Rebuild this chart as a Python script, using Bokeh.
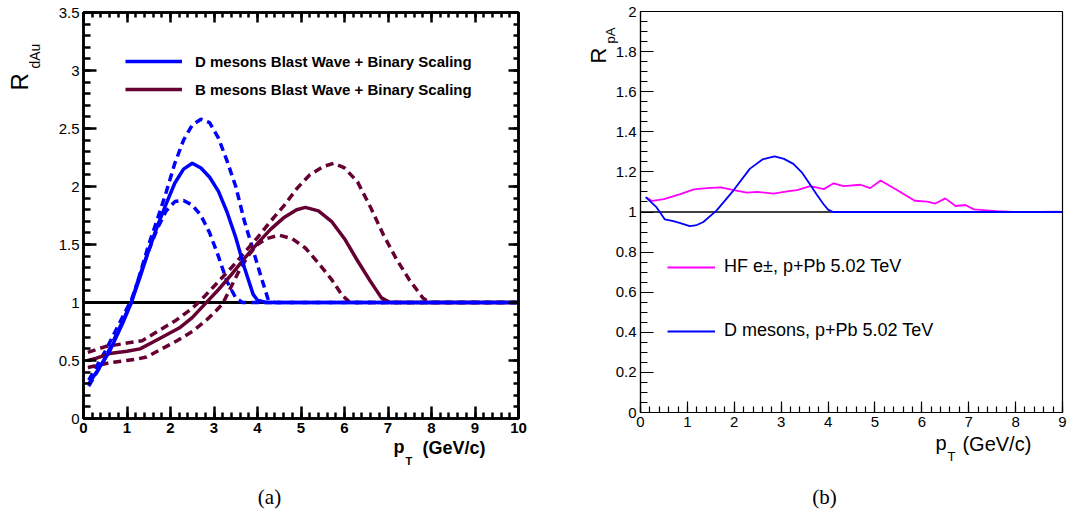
import numpy as np
from bokeh.plotting import figure
from bokeh.models import (FixedTicker, LinearAxis, Range1d, Span, Label,
                          Legend, LegendItem, CustomJSTickFormatter)
from bokeh.layouts import row, column
from bokeh.embed import file_html
from bokeh.resources import INLINE

SANS = "Liberation Sans"
SERIF = "Liberation Serif"

# ---------------- panel (a): R_dAu ----------------
d_pt = [0.12, 0.3, 0.6, 0.9, 1.1, 1.3, 1.5, 1.7, 1.9, 2.1, 2.3, 2.5, 2.7, 2.9,
        3.1, 3.3, 3.5, 3.7, 3.9, 4.0, 4.2, 10.0]
d_mid = [0.30, 0.40, 0.58, 0.82, 1.00, 1.22, 1.45, 1.66, 1.85, 2.03, 2.15, 2.20,
         2.16, 2.08, 1.96, 1.78, 1.56, 1.30, 1.07, 1.02, 1.00, 1.00]
d_hi_pt = [0.12, 0.5, 1.0, 1.1, 1.3, 1.5, 1.7, 1.9, 2.1, 2.3, 2.5, 2.7, 2.9, 3.1,
           3.3, 3.5, 3.7, 3.9, 4.1, 4.25, 4.4, 10.0]
d_hi = [0.28, 0.52, 0.92, 1.00, 1.25, 1.50, 1.72, 1.95, 2.20, 2.40, 2.53, 2.58,
        2.55, 2.42, 2.22, 2.00, 1.70, 1.45, 1.20, 1.02, 1.00, 1.00]
d_lo_pt = [0.12, 0.5, 1.0, 1.1, 1.3, 1.5, 1.7, 1.9, 2.1, 2.3, 2.5, 2.7, 2.9, 3.1,
           3.3, 3.5, 3.65, 10.0]
d_lo = [0.33, 0.58, 0.95, 1.02, 1.24, 1.45, 1.64, 1.79, 1.87, 1.88, 1.84, 1.75,
        1.60, 1.40, 1.18, 1.04, 1.00, 1.00]

b_pt = [0.1, 0.3, 0.6, 1.0, 1.3, 1.6, 1.9, 2.2, 2.5, 2.8, 3.1, 3.4, 3.7, 4.0, 4.3,
        4.6, 4.9, 5.1, 5.4, 5.7, 6.0, 6.3, 6.6, 6.85, 7.05, 10.0]
b_mid = [0.50, 0.52, 0.56, 0.58, 0.60, 0.66, 0.72, 0.78, 0.87, 0.99, 1.11, 1.24,
         1.38, 1.51, 1.63, 1.73, 1.80, 1.82, 1.79, 1.70, 1.55, 1.36, 1.18, 1.04,
         1.00, 1.00]
b_hi_pt = [0.1, 0.5, 1.0, 1.35, 1.7, 2.1, 2.5, 2.8, 3.1, 3.4, 3.7, 4.0, 4.3, 4.6,
           4.9, 5.2, 5.5, 5.75, 6.0, 6.3, 6.6, 6.9, 7.2, 7.5, 7.8, 7.95, 10.0]
b_hi = [0.57, 0.62, 0.65, 0.67, 0.75, 0.84, 0.95, 1.06, 1.18, 1.30, 1.43, 1.56,
        1.70, 1.83, 1.98, 2.10, 2.17, 2.20, 2.16, 2.04, 1.82, 1.58, 1.37, 1.19,
        1.04, 1.00, 1.00]
b_lo_pt = [0.1, 0.6, 1.2, 1.45, 1.8, 2.15, 2.5, 2.8, 3.0, 3.2, 3.4, 3.6, 3.8, 4.0,
           4.2, 4.5, 4.8, 5.1, 5.4, 5.7, 5.95, 6.1, 6.2, 10.0]
b_lo = [0.44, 0.48, 0.51, 0.53, 0.60, 0.67, 0.75, 0.84, 0.91, 0.99, 1.14, 1.29,
        1.41, 1.50, 1.55, 1.58, 1.55, 1.47, 1.34, 1.20, 1.06, 1.01, 1.00, 1.00]

a_legend = ["D mesons Blast Wave + Binary Scaling",
            "B mesons Blast Wave + Binary Scaling"]
a_xticks = [0, 1, 2, 3, 4, 5, 6, 7, 8, 9, 10]
a_xlabels = ["0", "1", "2", "3", "4", "5", "6", "7", "8", "9", "10"]
a_yticks = [0, 0.5, 1, 1.5, 2, 2.5, 3, 3.5]
a_ylabels = ["0", "0.5", "1", "1.5", "2", "2.5", "3", "3.5"]

# ---------------- panel (b): R_pA ----------------
hf_pt = [0.13, 0.25, 0.5, 0.85, 1.14, 1.42, 1.71, 1.99, 2.27, 2.49, 2.84, 3.13,
         3.34, 3.62, 3.91, 4.12, 4.33, 4.69, 4.9, 5.12, 5.47, 5.85, 6.11, 6.29,
         6.5, 6.72, 6.93, 7.11, 7.6, 7.96, 8.5, 8.95]
hf_r = [1.072, 1.055, 1.064, 1.089, 1.113, 1.119, 1.123, 1.109, 1.097, 1.100,
        1.092, 1.103, 1.109, 1.129, 1.114, 1.143, 1.129, 1.136, 1.119, 1.157,
        1.110, 1.056, 1.052, 1.042, 1.068, 1.030, 1.035, 1.013, 1.004, 1.001,
        1.000, 1.002]
dm_pt = [0.11, 0.34, 0.52, 0.70, 0.85, 1.05, 1.2, 1.34, 1.62, 1.98, 2.33, 2.6,
         2.86, 3.06, 3.26, 3.45, 3.61, 3.75, 3.90, 4.0, 4.11, 9.0]
dm_r = [1.074, 1.024, 0.963, 0.955, 0.945, 0.930, 0.935, 0.950, 1.007, 1.107,
        1.215, 1.262, 1.277, 1.265, 1.240, 1.195, 1.140, 1.090, 1.040, 1.012,
        1.000, 1.000]
b_legend = ["HF e\u00b1, p+Pb 5.02 TeV", "D mesons, p+Pb 5.02 TeV"]
b_xticks = [0, 1, 2, 3, 4, 5, 6, 7, 8, 9]
b_xlabels = ["0", "1", "2", "3", "4", "5", "6", "7", "8", "9"]
b_yticks = [0, 0.2, 0.4, 0.6, 0.8, 1.0, 1.2, 1.4, 1.6, 1.8, 2.0]
b_ylabels = ["0", "0.2", "0.4", "0.6", "0.8", "1", "1.2", "1.4", "1.6", "1.8", "2"]

BLUE = "#0000ff"
MAROON = "#660033"
MAGENTA = "#ff00ff"


def label_formatter(tick_values, tick_labels):
    return CustomJSTickFormatter(
        args=dict(tv=list(tick_values), tl=list(tick_labels)),
        code="const i = tv.findIndex(t => Math.abs(t - tick) < 1e-9);"
             "return i >= 0 ? tl[i] : '';")


def style_axis(ax, tick_values, minor, tick_labels, major_in, minor_in, width,
               size="15px", bold=False, show=True):
    ax.ticker = FixedTicker(ticks=list(tick_values), minor_ticks=list(minor))
    ax.major_tick_in = major_in
    ax.major_tick_out = 0
    ax.minor_tick_in = minor_in
    ax.minor_tick_out = 0
    ax.axis_line_width = width
    ax.major_tick_line_width = width
    ax.minor_tick_line_width = width
    ax.axis_line_color = "black"
    ax.major_tick_line_color = "black"
    ax.minor_tick_line_color = "black"
    if show:
        ax.formatter = label_formatter(tick_values, tick_labels)
        ax.major_label_text_font = SANS
        ax.major_label_text_font_size = size
        ax.major_label_text_font_style = "bold" if bold else "normal"
        ax.major_label_text_color = "black"
        ax.major_label_standoff = 4
    else:
        ax.formatter = CustomJSTickFormatter(code="return '';")
        ax.major_label_text_font_size = "0px"
        ax.major_label_standoff = 0


def minor_list(lo, hi, step):
    return [float(v) for v in np.round(np.arange(lo, hi + step / 2, step), 4)]


def put(p, side, x, y, text, size, style="normal", font=SANS, angle=0.0,
        align="left"):
    # Label placed in a side panel so that it is not clipped to the frame
    p.add_layout(Label(x=x, y=y, text=text, angle=angle, text_align=align,
                       text_baseline="middle", text_font=font,
                       text_font_size=size, text_font_style=style,
                       text_color="black"), side)


# ---------------- figure (a) ----------------
pa = figure(width=560, height=514, x_range=Range1d(0, 10), y_range=Range1d(0, 3.5),
            output_backend="svg", toolbar_location=None,
            min_border_left=83, min_border_right=42, min_border_top=12,
            min_border_bottom=96)
pa.grid.visible = False
pa.outline_line_color = "black"
pa.outline_line_width = 2.5
pa.background_fill_color = "white"
pa.border_fill_color = "white"

style_axis(pa.xaxis[0], a_xticks, minor_list(0, 10, 0.2), a_xlabels, 12, 6, 2.5,
           size="15px", bold=True)
style_axis(pa.yaxis[0], a_yticks, minor_list(0, 3.5, 0.1), a_ylabels, 13, 7, 2.5,
           size="15px")
top_a = LinearAxis()
right_a = LinearAxis()
pa.add_layout(top_a, "above")
pa.add_layout(right_a, "right")
style_axis(top_a, a_xticks, minor_list(0, 10, 0.2), a_xlabels, 10, 5, 2.5, show=False)
style_axis(right_a, a_yticks, minor_list(0, 3.5, 0.1), a_ylabels, 10, 5, 2.5, show=False)

pa.add_layout(Span(location=1, dimension="width", line_color="black",
                   line_width=3, level="underlay"))

W = 3.5
DASH = "8 5"
pa.line(d_hi_pt, d_hi, line_color=BLUE, line_width=W, line_dash=DASH)
pa.line(d_lo_pt, d_lo, line_color=BLUE, line_width=W, line_dash=DASH)
pa.line(b_hi_pt, b_hi, line_color=MAROON, line_width=W, line_dash=DASH)
pa.line(b_lo_pt, b_lo, line_color=MAROON, line_width=W, line_dash=DASH)
r_b = pa.line(b_pt, b_mid, line_color=MAROON, line_width=W)
r_d = pa.line(d_pt, d_mid, line_color=BLUE, line_width=W)

leg_a = Legend(items=[LegendItem(label=a_legend[0], renderers=[r_d]),
                      LegendItem(label=a_legend[1], renderers=[r_b])],
               location=(42, 319), orientation="vertical",
               glyph_width=57, glyph_height=20, label_height=20,
               label_standoff=13, spacing=8, padding=0, margin=0,
               border_line_color=None, background_fill_alpha=0,
               label_text_font=SANS, label_text_font_style="bold",
               label_text_font_size="15px", label_text_color="black")
pa.add_layout(leg_a)


def ax_px(px):   # screen x -> data (panel a)
    return (px - 83.0) / 43.5


def ay_px(py):   # screen y -> data (panel a)
    return (418.0 - py) / 116.0


put(pa, "left", ax_px(19), ay_px(90), "R", "24px", angle=np.pi / 2)
put(pa, "left", ax_px(34), ay_px(68), "dAu", "14px", angle=np.pi / 2)
put(pa, "below", ax_px(393), ay_px(446), "p", "18px", style="bold")
put(pa, "below", ax_px(405), ay_px(460), "T", "11px", style="bold")
put(pa, "below", ax_px(422), ay_px(447), "(GeV/c)", "18px", style="bold")
put(pa, "below", ax_px(269), ay_px(496), "(a)", "21px", font=SERIF, align="center")

# ---------------- figure (b) ----------------
pb = figure(width=509, height=514, x_range=Range1d(0, 9), y_range=Range1d(0, 2),
            output_backend="svg", toolbar_location=None,
            min_border_left=80, min_border_right=7, min_border_top=11,
            min_border_bottom=102)
pb.grid.visible = False
pb.outline_line_color = "black"
pb.outline_line_width = 1.2
pb.background_fill_color = "white"
pb.border_fill_color = "white"

style_axis(pb.xaxis[0], b_xticks, minor_list(0, 9, 0.2), b_xlabels, 11, 6, 1.2,
           size="15px")
style_axis(pb.yaxis[0], b_yticks, minor_list(0, 2, 0.05), b_ylabels, 13, 7, 1.2,
           size="15px")

pb.add_layout(Span(location=1, dimension="width", line_color="black",
                   line_width=1.5, level="underlay"))
r_hf = pb.line(hf_pt, hf_r, line_color=MAGENTA, line_width=1.8)
r_dm = pb.line(dm_pt, dm_r, line_color=BLUE, line_width=1.8)

leg_b = Legend(items=[LegendItem(label=b_legend[0], renderers=[r_hf]),
                      LegendItem(label=b_legend[1], renderers=[r_dm])],
               location=(27, 71), orientation="vertical",
               glyph_width=48, glyph_height=20, label_height=20,
               label_standoff=9, spacing=43, padding=0, margin=0,
               border_line_color=None, background_fill_alpha=0,
               label_text_font=SANS, label_text_font_size="18px",
               label_text_color="black")
pb.add_layout(leg_b)


def bx_px(px):   # screen x (page) -> data (panel b)
    return (px - 640.0) / 46.9


def by_px(py):
    return (412.0 - py) / 200.5


put(pb, "left", bx_px(597.5), by_px(63), "R", "22px", angle=np.pi / 2)
put(pb, "left", bx_px(610), by_px(43), "pA", "13px", angle=np.pi / 2)
put(pb, "below", bx_px(935), by_px(442), "p", "20px")
put(pb, "below", bx_px(947), by_px(456), "T", "13px")
put(pb, "below", bx_px(962), by_px(443), "(GeV/c)", "20px")
put(pb, "below", bx_px(824), by_px(496), "(b)", "21px", font=SERIF, align="center")

# nest each figure separately so that their frames are not aligned to each other
layout = row(column(pa), column(pb))
with open("out.html", "w") as f:
    f.write(file_html(layout, INLINE))
